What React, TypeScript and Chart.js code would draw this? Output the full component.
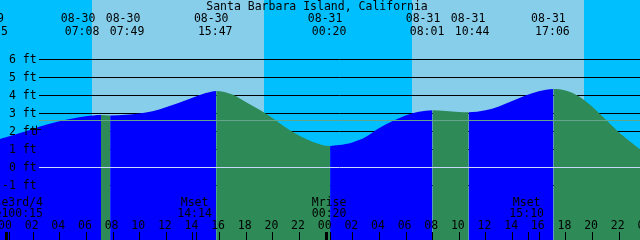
import React, { useEffect, useRef } from "react";
import { Chart, registerables } from "chart.js";

Chart.register(...registerables);

// ---------- data (hours are counted from 08-30 00:00) ----------
const STATION = "Santa Barbara Island, California";

const tideHours = [
  -0.45, 0, 1, 2, 3, 4, 5, 6, 7.133, 7.817, 9, 10, 11, 12, 13, 14, 15, 15.783,
  17, 18, 19, 20, 21, 22, 23, 24.333, 25, 26, 27, 28, 29, 30, 31, 32.017, 33, 34,
  34.733, 36, 37, 38, 39, 40, 41.1, 42, 43, 44, 45, 46, 47, 47.6,
];
const tideFeet = [
  1.57, 1.66, 1.89, 2.13, 2.36, 2.55, 2.71, 2.83, 2.9, 2.87, 2.92, 2.99, 3.11, 3.34, 3.58, 3.86, 4.12, 4.24,
  4.04, 3.62, 3.21, 2.74, 2.21, 1.76, 1.42, 1.18, 1.23, 1.38, 1.68, 2.16, 2.55, 2.88, 3.08, 3.17, 3.12, 3.07,
  3.06, 3.17, 3.38, 3.68, 3.98, 4.22, 4.35, 4.27, 3.95, 3.38, 2.67, 1.95, 1.35, 1.0,
];

const tideEventDates = ["08-29", "08-30", "08-30", "08-30", "08-31", "08-31", "08-31", "08-31"];
const tideEventClocks = ["22:55", "07:08", "07:49", "15:47", "00:20", "08:01", "10:44", "17:06"];

const sunriseTimes = ["08-30 06:26", "08-31 06:28"];
const sunsetTimes = ["08-30 19:22", "08-31 19:23"];

const moonEventTimes = ["08-30 00:15", "08-30 14:14", "08-31 00:20", "08-31 15:10"];
const moonEventNames = ["Phase3rd/4", "Mset", "Mrise", "Mset"];
const moonEventClocks = ["Time100:15", "14:14", "00:20", "15:10"];

const depthTicks = [6, 5, 4, 3, 2, 1, 0, -1];
const hourTicks = [0, 2, 4, 6, 8, 10, 12, 14, 16, 18, 20, 22, 24, 26, 28, 30, 32, 34, 36, 38, 40, 42, 44, 46, 48];
const mslFeet = 2.6;
const datumFeet = 0;

// ---------- style ----------
const NIGHT = "#00BFFF";
const DAY = "#87CEEB";
const FLOOD = "#0000FF";
const EBB = "#2E8B57";
const MSL = "#62A58A";
const DATUM = "#C8D8F8";
const FONT = '11.5px "DejaVu Sans Mono", monospace';

const toHours = (stamp: string) => {
  const [md, hm] = stamp.split(" ");
  const day = parseInt(md.split("-")[1], 10);
  const [hh, mm] = hm.split(":").map((s) => parseInt(s, 10));
  return (day - 30) * 24 + hh + mm / 60;
};

const X_MIN = -0.45;
const X_MAX = 47.6;
const Y_MIN = -4.04;
const Y_MAX = 9.29;

const tidePlugin = {
  id: "tideDecor",
  beforeDatasetsDraw(chart: any) {
    const { ctx, width, height } = chart;
    const xs = chart.scales.x;
    const ys = chart.scales.y;
    ctx.save();
    ctx.fillStyle = NIGHT;
    ctx.fillRect(0, 0, width, height);
    ctx.fillStyle = DAY;
    sunriseTimes.forEach((rise, i) => {
      const a = xs.getPixelForValue(toHours(rise));
      const b = xs.getPixelForValue(toHours(sunsetTimes[i]));
      ctx.fillRect(Math.round(a), 0, Math.round(b) - Math.round(a), height);
    });
    ctx.strokeStyle = "#000";
    ctx.lineWidth = 1;
    depthTicks.forEach((v) => {
      const y = Math.round(ys.getPixelForValue(v)) + 0.5;
      ctx.beginPath();
      ctx.moveTo(39, y);
      ctx.lineTo(width, y);
      ctx.stroke();
    });
    ctx.restore();
  },
  afterDatasetsDraw(chart: any) {
    const { ctx, width } = chart;
    const xs = chart.scales.x;
    const ys = chart.scales.y;
    ctx.save();
    // datum + mean sea level lines
    ctx.lineWidth = 1;
    ctx.strokeStyle = DATUM;
    let y = Math.round(ys.getPixelForValue(datumFeet)) + 0.5;
    ctx.beginPath();
    ctx.moveTo(39, y);
    ctx.lineTo(width, y);
    ctx.stroke();
    ctx.strokeStyle = MSL;
    y = Math.round(ys.getPixelForValue(mslFeet)) + 0.5;
    ctx.beginPath();
    ctx.moveTo(39, y);
    ctx.lineTo(width, y);
    ctx.stroke();

    ctx.fillStyle = "#000";
    ctx.font = FONT;
    ctx.textBaseline = "alphabetic";

    // depth labels
    ctx.textAlign = "left";
    depthTicks.forEach((v) => {
      const yy = ys.getPixelForValue(v);
      ctx.fillText(`${String(v).padStart(2, " ")} ft`, 2, Math.round(yy) + 4);
    });
    // small cross mark
    const cy = Math.round(ys.getPixelForValue(2.12)) + 0.5;
    ctx.strokeStyle = "#000";
    ctx.beginPath();
    ctx.moveTo(30, cy);
    ctx.lineTo(41, cy);
    ctx.moveTo(36.5, cy - 4);
    ctx.lineTo(36.5, cy + 5);
    ctx.stroke();

    // title
    ctx.textAlign = "center";
    ctx.fillText(STATION, 317, 10);

    // tide event labels (pushed apart when overlapping)
    const centers = tideEventClocks.map((c, i) => xs.getPixelForValue(toHours(`${tideEventDates[i]} ${c}`)) - 1);
    for (let i = 0; i < centers.length - 1; i++) {
      const gap = centers[i + 1] - centers[i];
      if (gap < 45) {
        const d = (45 - gap) / 2;
        centers[i] -= d;
        centers[i + 1] += d;
      }
    }
    centers.forEach((c, i) => {
      ctx.fillText(tideEventDates[i], c - 4, 22);
      ctx.fillText(tideEventClocks[i], c, 35);
    });

    // moon labels
    moonEventTimes.forEach((t, i) => {
      const x = xs.getPixelForValue(toHours(t)) - 1;
      ctx.fillText(moonEventNames[i], x, 206);
      ctx.fillText(moonEventClocks[i], x, 217);
    });

    // hour labels and ticks
    hourTicks.forEach((h) => {
      const x = xs.getPixelForValue(h);
      const lab = String(h % 24).padStart(2, "0");
      ctx.fillText(lab, x - 1, 229);
      const xr = Math.round(x);
      if (h % 24 === 0) ctx.fillRect(xr - 1, 232, 3, 8);
      else ctx.fillRect(xr, 232, 1, 8);
    });
    moonEventTimes.forEach((t) => {
      const xr = Math.round(xs.getPixelForValue(toHours(t)));
      ctx.fillRect(xr, 232, 1, 8);
    });
    ctx.restore();
  },
};

export default function App() {
  const ref = useRef<HTMLCanvasElement | null>(null);
  useEffect(() => {
    if (!ref.current) return;
    const points = tideHours.map((h, i) => ({ x: h, y: tideFeet[i] }));
    const chart = new Chart(ref.current, {
      type: "line",
      data: {
        datasets: [
          {
            data: points,
            fill: "start",
            borderWidth: 0,
            borderColor: "rgba(0,0,0,0)",
            pointRadius: 0,
            cubicInterpolationMode: "monotone",
            backgroundColor: FLOOD,
            segment: {
              backgroundColor: (c: any) => (c.p1.parsed.y >= c.p0.parsed.y ? FLOOD : EBB),
            },
          } as any,
        ],
      },
      options: {
        responsive: false,
        maintainAspectRatio: false,
        animation: false,
        events: [],
        layout: { padding: 0 },
        plugins: { legend: { display: false }, tooltip: { enabled: false } },
        scales: {
          x: { type: "linear", min: X_MIN, max: X_MAX, display: false },
          y: { type: "linear", min: Y_MIN, max: Y_MAX, display: false },
        },
      },
      plugins: [tidePlugin],
    });
    return () => chart.destroy();
  }, []);
  return (
    <div style={{ position: "fixed", left: 0, top: 0, width: 640, height: 240 }}>
      <canvas ref={ref} width={640} height={240} style={{ display: "block", width: 640, height: 240 }} />
    </div>
  );
}
